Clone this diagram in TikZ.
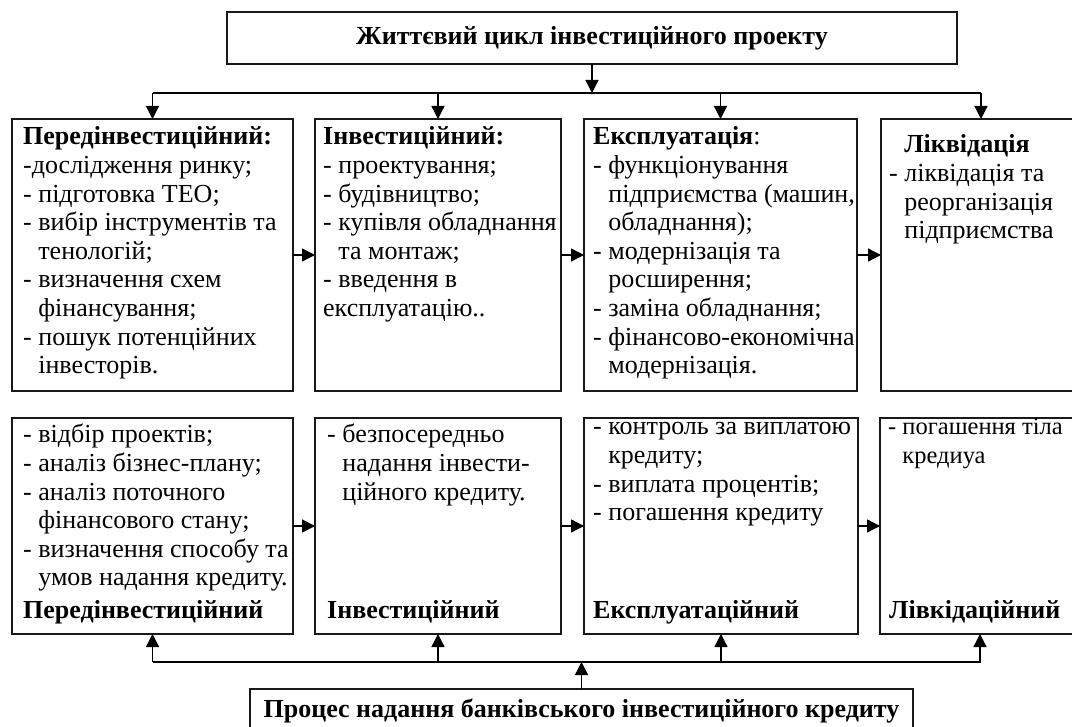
\documentclass[tikz,border=0pt]{standalone}
\usepackage{fontspec}
\setmainfont{Liberation Serif}
\usetikzlibrary{arrows.meta}
\newcommand{\hin}{\phantom{- }}
\newcommand{\lines}[1]{\begin{tabular}[t]{@{}l@{}}#1\end{tabular}}
\begin{document}
\begin{tikzpicture}[x=1pt,y=-1pt,
  box/.style={draw=black!90, line width=1.7pt, outer sep=0pt, inner sep=0pt, anchor=north west},
  txt/.style={anchor=base west, inner sep=0pt, font=\fontsize{26}{28.6}\selectfont},
  btxt/.style={txt, font=\fontsize{26}{28.6}\selectfont\bfseries},
  ttl/.style={font=\fontsize{26}{28}\selectfont\bfseries},
  conn/.style={draw=black, line width=1.3pt},
  arr/.style={conn, -{Triangle[length=13pt,width=13pt]}}]
\useasboundingbox (0,0) rectangle (1072,727);
\clip (0,0) rectangle (1072,727);
\fill[white] (0,0) rectangle (1072,727);

% top box
\node[box, minimum width=730pt, minimum height=52pt, ttl] (top) at (227,12) {Життєвий цикл інвестиційного проекту};

% row 1 boxes
\node[box, minimum width=281pt, minimum height=272pt] (p1) at (12,119) {};
\node[box, minimum width=246pt, minimum height=272pt] (p2) at (315,119) {};
\node[box, minimum width=273pt, minimum height=272pt] (p3) at (584,119) {};
\node[box, minimum width=200pt, minimum height=272pt] (p4) at (881,119) {};

% row 2 boxes
\node[box, minimum width=281pt, minimum height=216pt] (q1) at (12,418) {};
\node[box, minimum width=246pt, minimum height=216pt] (q2) at (315,418) {};
\node[box, minimum width=274pt, minimum height=216pt] (q3) at (584,418) {};
\node[box, minimum width=200pt, minimum height=216pt] (q4) at (880,418) {};

% bottom box
\node[box, minimum width=663pt, minimum height=44pt, ttl] (bot) at (250,689) {Процес надання банківського інвестиційного кредиту};

% row 1 texts
\node[txt] (t1) at (23,145) {\lines{\textbf{Передінвестиційний:}\\
-дослідження ринку;\\
- підготовка ТЕО;\\
- вибір інструментів та\\
\hin тенологій;\\
- визначення схем\\
\hin фінансування;\\
- пошук потенційних\\
\hin інвесторів.}};
\node[txt] (t2) at (323,145) {\lines{\textbf{Інвестиційний:}\\
- проектування;\\
- будівництво;\\
- купівля обладнання\\
\hin та монтаж;\\
- введення в\\
експлуатацію..}};
\node[txt] (t3) at (593,145) {\lines{\textbf{Експлуатація}:\\
- функціонування\\
\hin підприємства (машин,\\
\hin обладнання);\\
- модернізація та\\
\hin росширення;\\
- заміна обладнання;\\
- фінансово-економічна\\
\hin модернізація.}};
\node[txt] (t4) at (889,153) {\lines{\hin\textbf{Ліквідація}\\
- ліквідація та\\
\hin реорганізація\\
\hin підприємства}};

% row 2 texts
\node[txt] (u1) at (23,443) {\lines{- відбір проектів;\\
- аналіз бізнес-плану;\\
- аналіз поточного\\
\hin фінансового стану;\\
- визначення способу та\\
\hin умов надання кредиту.}};
\node[txt] (u2) at (327,443) {\lines{- безпосередньо\\
\hin надання інвести-\\
\hin ційного кредиту.}};
\node[txt] (u3) at (593,435) {\lines{- контроль за виплатою\\
\hin кредиту;\\
- виплата процентів;\\
- погашення кредиту}};
\node[txt, font=\fontsize{24.5}{28.6}\selectfont] (u4) at (888,435) {\lines{- погашення тіла\\
\hin кредиуа}};

\node[btxt] (v1) at (23,618) {Передінвестиційний};
\node[btxt] (v2) at (327,618) {Інвестиційний};
\node[btxt] (v3) at (593,618) {Експлуатаційний};
\node[btxt] (v4) at (889,618) {Лівкідаційний};

% top distribution
\coordinate (hL) at (153,93);
\coordinate (hR) at (981,93);
\draw[arr] (top.south) -- (top.south |- hL);
\draw[conn] (hL) -- (hR);
\foreach \n in {p1,p2,p3,p4} \draw[arr] (\n.north |- hL) -- (\n.north);

% horizontal arrows
\draw[arr] (p1.east) -- (p2.west);
\draw[arr] (p2.east) -- (p3.west);
\draw[arr] (p3.east) -- (p4.west);
\draw[arr] (q1.east) -- (q2.west);
\draw[arr] (q2.east) -- (q3.west);
\draw[arr] (q3.east) -- (q4.west);

% bottom distribution
\coordinate (bL) at (153,662);
\coordinate (bR) at (981,662);
\draw[arr] (bot.north) -- (bot.north |- bL);
\draw[conn] (bL) -- (bR);
\foreach \n in {q1,q2,q3,q4} \draw[arr] (\n.south |- bL) -- (\n.south);
\end{tikzpicture}
\end{document}
